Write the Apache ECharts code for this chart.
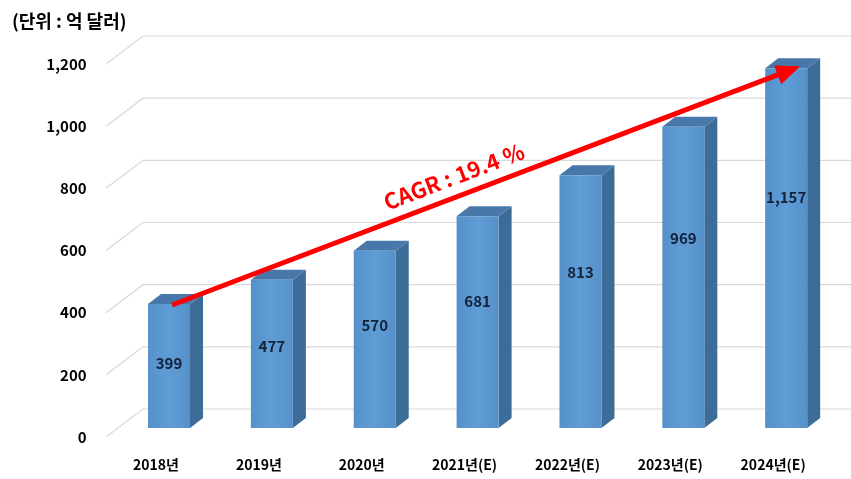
<!DOCTYPE html>
<html><head><meta charset="utf-8">
<script src="https://cdn.jsdelivr.net/npm/echarts@6/dist/echarts.min.js"></script>
<style>html,body{margin:0;padding:0;background:#fff}#c{width:851px;height:479px}</style>
</head><body><div id="c"></div>
<script>
const categories = ['2018년','2019년','2020년','2021년(E)','2022년(E)','2023년(E)','2024년(E)'];
const values = [399, 477, 570, 681, 813, 969, 1157];
const yTicks = [0, 200, 400, 600, 800, 1000, 1200];
const unitText = '(단위 : 억 달러)';
const cagrText = 'CAGR : 19.4 %';

const FONT = '"Noto Sans CJK KR", "Noto Sans", sans-serif';
const fmt = v => v.toLocaleString('en-US');

function renderGrid(params, api) {
  const y = api.coord([0, api.value(0)])[1];
  const w = api.getWidth();
  return {type:'group', children:[
    {type:'polyline', shape:{points:[[106,y],[143,y-28],[w,y-28]]}, style:{stroke:'#d9d9d9', lineWidth:1.2, fill:null}}
  ]};
}

function renderBar(params, api) {
  const cat = api.value(0), v = api.value(1);
  const base = api.coord([cat, 0]);
  const top = api.coord([cat, v]);
  const cx = base[0] + 13, x0 = cx - 21, x1 = cx + 21;
  const yb = base[1] - 9, yt = top[1] - 9;
  const dx = 13, dy = 10;
  const lab = api.coord([cat, v * 0.704 - 72])[1] - 9;
  return {type:'group', children:[
    {type:'polygon', shape:{points:[[x1,yt],[x1+dx,yt-dy],[x1+dx,yb-dy],[x1,yb]]}, style:{fill:'#3E6C99'}},
    {type:'polygon', shape:{points:[[x0,yt],[x0+dx,yt-dy],[x1+dx,yt-dy],[x1,yt]]}, style:{fill:'#4878AA'}},
    {type:'rect', shape:{x:x0, y:yt, width:x1-x0, height:yb-yt}, style:{fill:new echarts.graphic.LinearGradient(0,0,1,0,[{offset:0,color:'#5690C9'},{offset:0.5,color:'#5F9DD6'},{offset:1,color:'#5690C9'}])}},
    {type:'text', style:{text:fmt(v), x:cx, y:lab, align:'center', verticalAlign:'middle', font:'bold 15px ' + FONT, fill:'#14233a'}}
  ]};
}

function renderArrow(params, api) {
  const a = api.coord([api.value(0), api.value(1)]);
  const b = api.coord([api.value(2), api.value(3)]);
  const p0 = [a[0] + 16, a[1] - 8];
  const p1 = [b[0] + 27, b[1] - 11];
  const ddx = p1[0] - p0[0], ddy = p1[1] - p0[1];
  const len = Math.sqrt(ddx*ddx + ddy*ddy);
  const ux = ddx/len, uy = ddy/len;
  const nx = uy, ny = -ux;
  const hl = 24, hw = 10;
  const hb = [p1[0] - ux*hl, p1[1] - uy*hl];
  const t = 0.46;
  const mx = p0[0] + ddx*t + nx*20, my = p0[1] + ddy*t + ny*20;
  const ang = Math.atan2(-ddy, ddx);
  return {type:'group', children:[
    {type:'line', shape:{x1:p0[0], y1:p0[1], x2:hb[0]+ux*2, y2:hb[1]+uy*2}, style:{stroke:'#ff0000', lineWidth:5}},
    {type:'polygon', shape:{points:[p1,[hb[0]+nx*hw, hb[1]+ny*hw],[hb[0]-nx*hw, hb[1]-ny*hw]]}, style:{fill:'#ff0000'}},
    {type:'text', x:mx, y:my, rotation:ang, style:{text:cagrText, x:0, y:0, align:'center', verticalAlign:'middle', font:'bold 22px ' + FONT, fill:'#ff0000'}}
  ]};
}

const chart = echarts.init(document.getElementById('c'));
chart.setOption({
  backgroundColor:'#fff',
  animation:false,
  title:{text:unitText, left:7, top:7, textStyle:{fontFamily:FONT, fontWeight:'bold', fontSize:18, color:'#000'}},
  grid:{left:104.6, right:26.4, top:64, bottom:42},
  xAxis:{type:'category', data:categories, axisLine:{show:false}, axisTick:{show:false},
    axisLabel:{margin:21, fontFamily:FONT, fontWeight:'bold', fontSize:14, color:'#000'}},
  yAxis:{type:'value', min:0, max:1200, interval:200, splitLine:{show:false}, axisLine:{show:false}, axisTick:{show:false},
    axisLabel:{margin:18, fontFamily:FONT, fontWeight:'bold', fontSize:15, color:'#000', formatter:v => fmt(v)}},
  series:[
    {type:'custom', renderItem:renderGrid, data:yTicks.map(v => [v]), silent:true, z:1},
    {type:'custom', renderItem:renderBar, data:values.map((v,i) => [i, v]), z:2},
    {type:'custom', renderItem:renderArrow, data:[[0, values[0], values.length-1, values[values.length-1]]], z:3, silent:true}
  ]
});
</script></body></html>
